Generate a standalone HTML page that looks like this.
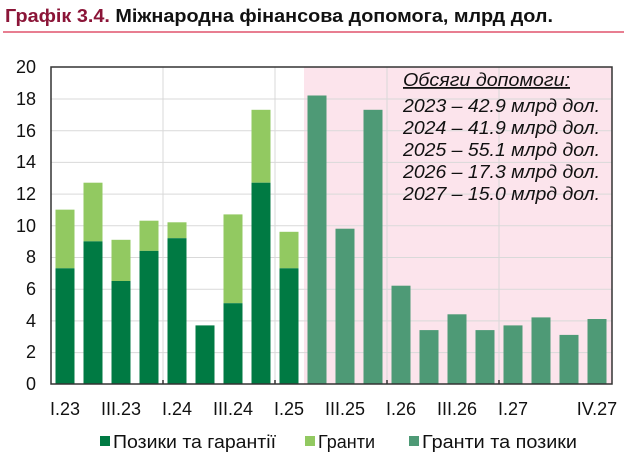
<!DOCTYPE html>
<html><head><meta charset="utf-8"><style>
body{margin:0;background:#fff;width:628px;height:463px;overflow:hidden;font-family:"Liberation Sans",sans-serif;}
</style></head><body>
<svg width="628" height="463" xmlns="http://www.w3.org/2000/svg" font-family="Liberation Sans, sans-serif">
<text x="5" y="22" font-size="18" font-weight="bold" fill="#111" textLength="548" lengthAdjust="spacingAndGlyphs"><tspan fill="#8B1538">Графік 3.4.</tspan> Міжнародна фінансова допомога, млрд дол.</text>
<line x1="3" y1="32" x2="624" y2="32" stroke="#D9304F" stroke-width="1.2"/>
<rect x="304" y="67" width="308" height="317" fill="#FCE4EC"/>
<g stroke="#d9d9d9" stroke-width="1">
<line x1="51" y1="99" x2="612" y2="99"/><line x1="51" y1="130.7" x2="612" y2="130.7"/><line x1="51" y1="162.4" x2="612" y2="162.4"/><line x1="51" y1="194.1" x2="612" y2="194.1"/><line x1="51" y1="225.8" x2="612" y2="225.8"/><line x1="51" y1="257.5" x2="612" y2="257.5"/><line x1="51" y1="289.2" x2="612" y2="289.2"/><line x1="51" y1="320.9" x2="612" y2="320.9"/><line x1="51" y1="352.6" x2="612" y2="352.6"/>
<line x1="163" y1="67" x2="163" y2="384"/><line x1="275" y1="67" x2="275" y2="384"/><line x1="387" y1="67" x2="387" y2="384"/><line x1="499" y1="67" x2="499" y2="384"/>
</g>
<g fill="#92C961">
<rect x="55.5" y="209.65" width="19" height="58.65"/>
<rect x="83.5" y="182.7" width="19" height="58.65"/>
<rect x="111.5" y="239.8" width="19" height="41.2"/>
<rect x="139.5" y="220.7" width="19" height="30.2"/>
<rect x="167.5" y="222.3" width="19" height="15.9"/>
<rect x="223.5" y="214.4" width="19" height="88.8"/>
<rect x="251.5" y="109.8" width="19" height="72.9"/>
<rect x="279.5" y="231.8" width="19" height="36.5"/>
</g>
<g fill="#007A43">
<rect x="55.5" y="268.3" width="19" height="115.7"/>
<rect x="83.5" y="241.35" width="19" height="142.65"/>
<rect x="111.5" y="281" width="19" height="103"/>
<rect x="139.5" y="250.9" width="19" height="133.1"/>
<rect x="167.5" y="238.2" width="19" height="145.8"/>
<rect x="195.5" y="325.4" width="19" height="58.6"/>
<rect x="223.5" y="303.2" width="19" height="80.8"/>
<rect x="251.5" y="182.7" width="19" height="201.3"/>
<rect x="279.5" y="268.3" width="19" height="115.7"/>
</g>
<g fill="#4E9A76">
<rect x="307.5" y="95.5" width="19" height="288.5"/>
<rect x="335.5" y="228.7" width="19" height="155.3"/>
<rect x="363.5" y="109.8" width="19" height="274.2"/>
<rect x="391.5" y="285.7" width="19" height="98.3"/>
<rect x="419.5" y="330.1" width="19" height="53.9"/>
<rect x="447.5" y="314.3" width="19" height="69.7"/>
<rect x="475.5" y="330.1" width="19" height="53.9"/>
<rect x="503.5" y="325.4" width="19" height="58.6"/>
<rect x="531.5" y="317.4" width="19" height="66.6"/>
<rect x="559.5" y="334.9" width="19" height="49.1"/>
<rect x="587.5" y="319" width="19" height="65"/>
</g>
<rect x="51" y="67" width="561" height="317" fill="none" stroke="#333" stroke-width="1.5"/>
<g stroke="#333" stroke-width="1.5"><line x1="163" y1="384" x2="163" y2="380"/><line x1="275" y1="384" x2="275" y2="380"/><line x1="387" y1="384" x2="387" y2="380"/><line x1="499" y1="384" x2="499" y2="380"/></g>
<g font-size="18" fill="#111" text-anchor="end">
<text x="36" y="390">0</text><text x="36" y="358">2</text><text x="36" y="327">4</text><text x="36" y="295">6</text><text x="36" y="263">8</text><text x="36" y="232">10</text><text x="36" y="200">12</text><text x="36" y="168">14</text><text x="36" y="137">16</text><text x="36" y="105">18</text><text x="36" y="73">20</text>
</g>
<g font-size="18" fill="#111" text-anchor="middle">
<text x="65" y="415">I.23</text><text x="121" y="415">III.23</text><text x="177" y="415">I.24</text><text x="233" y="415">III.24</text><text x="289" y="415">I.25</text><text x="345" y="415">III.25</text><text x="401" y="415">I.26</text><text x="457" y="415">III.26</text><text x="513" y="415">I.27</text><text x="597" y="415">IV.27</text>
</g>
<g font-size="18" fill="#111" font-style="italic">
<text x="403" y="86" text-decoration="underline" textLength="167" lengthAdjust="spacingAndGlyphs">Обсяги допомоги:</text>
<text x="403" y="112" textLength="197" lengthAdjust="spacingAndGlyphs">2023 – 42.9 млрд дол.</text>
<text x="403" y="134" textLength="197" lengthAdjust="spacingAndGlyphs">2024 – 41.9 млрд дол.</text>
<text x="403" y="156" textLength="197" lengthAdjust="spacingAndGlyphs">2025 – 55.1 млрд дол.</text>
<text x="403" y="178" textLength="197" lengthAdjust="spacingAndGlyphs">2026 – 17.3 млрд дол.</text>
<text x="403" y="200" textLength="197" lengthAdjust="spacingAndGlyphs">2027 – 15.0 млрд дол.</text>
</g>
<g font-size="18" fill="#111">
<rect x="100" y="436" width="10" height="10" fill="#007A43"/><text x="113" y="448" textLength="163" lengthAdjust="spacingAndGlyphs">Позики та гарантії</text>
<rect x="305" y="436" width="10" height="10" fill="#92C961"/><text x="318" y="448">Гранти</text>
<rect x="409" y="436" width="10" height="10" fill="#4E9A76"/><text x="422" y="448" textLength="155" lengthAdjust="spacingAndGlyphs">Гранти та позики</text>
</g>
</svg>
</body></html>
